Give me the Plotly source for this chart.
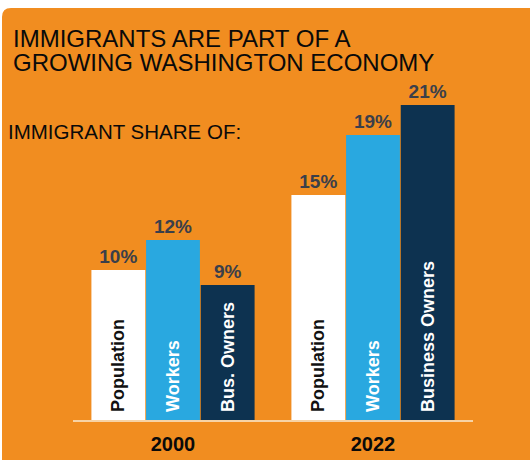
import plotly.graph_objects as go

# ---- data ----
years = ["2000", "2022"]
population = [10, 15]
workers = [12, 19]
business_owners = [9, 21]
population_labels = ["Population", "Population"]
workers_labels = ["Workers", "Workers"]
business_labels = ["Bus. Owners", "Business Owners"]

title_line1 = "IMMIGRANTS ARE PART OF A"
title_line2 = "GROWING WASHINGTON ECONOMY"
subtitle = "IMMIGRANT SHARE OF:"

# ---- style ----
ORANGE = "#F18D20"
WHITE = "#FFFFFF"
BLUE = "#29A8E0"
NAVY = "#0D3250"
LABEL_GRAY = "#3B3F4A"
FONT = "Liberation Sans"

series = [
    ("Population", population, population_labels, WHITE, "#111111"),
    ("Workers", workers, workers_labels, BLUE, WHITE),
    ("Business Owners", business_owners, business_labels, NAVY, WHITE),
]

fig = go.Figure()
for name, vals, labels, col, tcol in series:
    fig.add_trace(go.Bar(
        x=years, y=vals, name=name, offsetgroup=name,
        marker=dict(color=col, line=dict(width=0)),
        text=["\u00a0" + s for s in labels], textposition="inside",
        insidetextanchor="start", textangle=-90, constraintext="none",
        textfont=dict(family=FONT, size=18, color=tcol, weight="bold"),
        hoverinfo="skip", showlegend=False,
    ))
for name, vals, labels, col, tcol in series:
    fig.add_trace(go.Bar(
        x=years, y=vals, name=name + " value", offsetgroup=name,
        marker=dict(color="rgba(0,0,0,0)", line=dict(width=0)),
        texttemplate="%{y}%", textposition="outside", textangle=0,
        constraintext="none", cliponaxis=False,
        textfont=dict(family=FONT, size=19, color=LABEL_GRAY, weight="bold"),
        hoverinfo="skip", showlegend=False,
    ))

L, R, T, B = 73, 57, 45, 40
W, H = 530, 460
PW, PH = W - L - R, H - T - B


def px_x(px):
    return (px - L) / PW


def px_y(py):
    return (H - B - py) / PH


x0, y1 = px_x(2), px_y(8)
xr, yb = px_x(540), px_y(470)
rx, ry = 9 / PW, 9 / PH
path = (f"M {x0},{y1 - ry} Q {x0},{y1} {x0 + rx},{y1} "
        f"L {xr},{y1} L {xr},{yb} L {x0},{yb} Z")

fig.update_layout(
    width=W, height=H,
    margin=dict(l=L, r=R, t=T, b=B, autoexpand=False),
    paper_bgcolor=WHITE, plot_bgcolor="rgba(0,0,0,0)",
    barmode="group", bargap=0.18, bargroupgap=0.015,
    shapes=[dict(type="path", path=path, xref="paper", yref="paper",
                 fillcolor=ORANGE, line=dict(width=0), layer="below")],
    annotations=[
        dict(text=title_line1, x=px_x(11), y=px_y(39), xref="paper", yref="paper",
             xanchor="left", yanchor="middle", showarrow=False,
             font=dict(family=FONT, size=24, color="#0A0A0A")),
        dict(text=title_line2, x=px_x(11), y=px_y(62), xref="paper", yref="paper",
             xanchor="left", yanchor="middle", showarrow=False,
             font=dict(family=FONT, size=24, color="#0A0A0A")),
        dict(text=subtitle, x=px_x(6), y=px_y(131), xref="paper", yref="paper",
             xanchor="left", yanchor="middle", showarrow=False,
             font=dict(family=FONT, size=20.5, color="#0A0A0A")),
    ],
    xaxis=dict(type="category", range=[-0.5, 1.5], showline=True,
               linecolor="#F7D3A6", linewidth=2, showgrid=False, zeroline=False,
               ticks="outside", ticklen=5, tickcolor="rgba(0,0,0,0)",
               tickfont=dict(family=FONT, size=20, color="#0A0A0A", weight="bold"),
               automargin=False, fixedrange=True),
    yaxis=dict(range=[0, 25], visible=False, showgrid=False, zeroline=False,
               automargin=False, fixedrange=True),
)

fig.write_html(
    "out.html",
    config=dict(displayModeBar=False),
    post_script="document.body.style.margin='0';document.body.style.overflow='hidden';",
)
